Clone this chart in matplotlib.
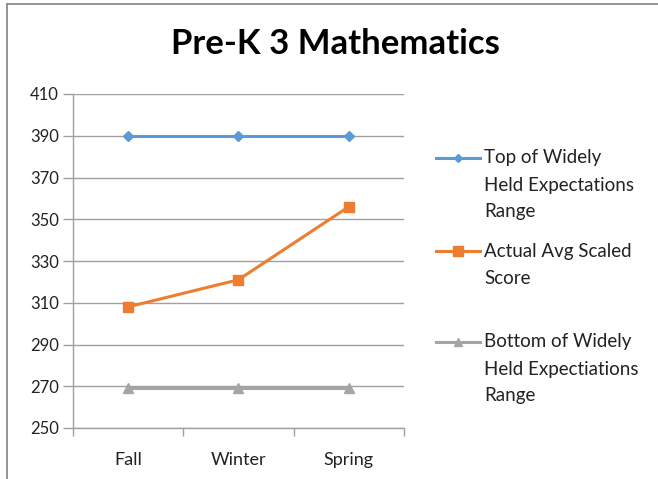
import matplotlib
matplotlib.use("Agg")
import matplotlib.pyplot as plt
from matplotlib.lines import Line2D

categories = ["Fall", "Winter", "Spring"]
top_range = [390, 390, 390]
actual_avg = [308, 321, 356]
bottom_range = [269, 269, 269]
series_labels = ["Top of Widely\nHeld Expectations\nRange",
                 "Actual Avg Scaled\nScore",
                 "Bottom of Widely\nHeld Expectiations\nRange"]
yticks = [250, 270, 290, 310, 330, 350, 370, 390, 410]

FONT = ["Lato", "DejaVu Sans"]
plt.rcParams["font.family"] = FONT

W, H = 658, 479
fig = plt.figure(figsize=(W / 100, H / 100), dpi=100)

# outer chart border (top & left visible)
fig.add_artist(Line2D([6.5 / W, 6.5 / W], [0, 1 - 3.5 / H], color="#8c8c8c", lw=1.3))
fig.add_artist(Line2D([6.5 / W, 1], [1 - 3.5 / H, 1 - 3.5 / H], color="#8c8c8c", lw=1.3))

ax = fig.add_axes([72.7 / W, 1 - 428 / H, (404 - 72.7) / W, (428 - 94) / H])

x = list(range(len(categories)))
colors = ["#5B9BD5", "#ED7D31", "#A5A5A5"]
markers = ["D", "s", "^"]
msizes = [5, 7.5, 7]
data = [top_range, actual_avg, bottom_range]
for vals, c, m, ms in zip(data, colors, markers, msizes):
    ax.plot(x, vals, color=c, lw=2.2, marker=m, markersize=ms,
            markeredgecolor=c, markerfacecolor=c, zorder=3)

ax.set_xlim(-0.5, len(categories) - 0.5)
ax.set_ylim(250, 410)
ax.set_yticks(yticks)
ax.set_yticklabels([str(v) for v in yticks], fontsize=12, color="#222222")
ax.grid(axis="y", color="#a0a0a0", lw=1.0)
ax.set_axisbelow(True)

ax.set_xticks(x)
ax.set_xticklabels(categories, fontsize=13, color="#222222")
ax.set_xticks([i - 0.5 for i in range(len(categories) + 1)], minor=True)
ax.tick_params(axis="x", which="major", length=0, pad=17)
ax.tick_params(axis="x", which="minor", length=6, color="#a0a0a0", width=1.0, direction="out")
ax.tick_params(axis="y", length=7, color="#a0a0a0", width=1.0, pad=3)

for s in ["top", "right"]:
    ax.spines[s].set_visible(False)
for s in ["left", "bottom"]:
    ax.spines[s].set_color("#a0a0a0")
    ax.spines[s].set_linewidth(1.0)

fig.text(335.5 / W, 1 - 54 / H, "Pre-K 3 Mathematics", fontsize=25, fontweight="bold",
         ha="center", va="baseline", color="black")

# legend
entry_y = [158, 251, 342]
pitch = 27
for lab, c, m, ms, ey in zip(series_labels, colors, markers, msizes, entry_y):
    yf = 1 - ey / H
    fig.add_artist(Line2D([436 / W, 480 / W], [yf, yf], color=c, lw=2.2))
    fig.add_artist(Line2D([458 / W], [yf], color=c, marker=m, markersize=ms * 0.9,
                          markeredgecolor=c, markerfacecolor=c, lw=0))
    for i, line in enumerate(lab.split("\n")):
        fig.text(484 / W, 1 - (ey + i * pitch) / H, line, fontsize=13.5,
                 ha="left", va="center", color="#222222")

fig.savefig("out.png", dpi=100)
